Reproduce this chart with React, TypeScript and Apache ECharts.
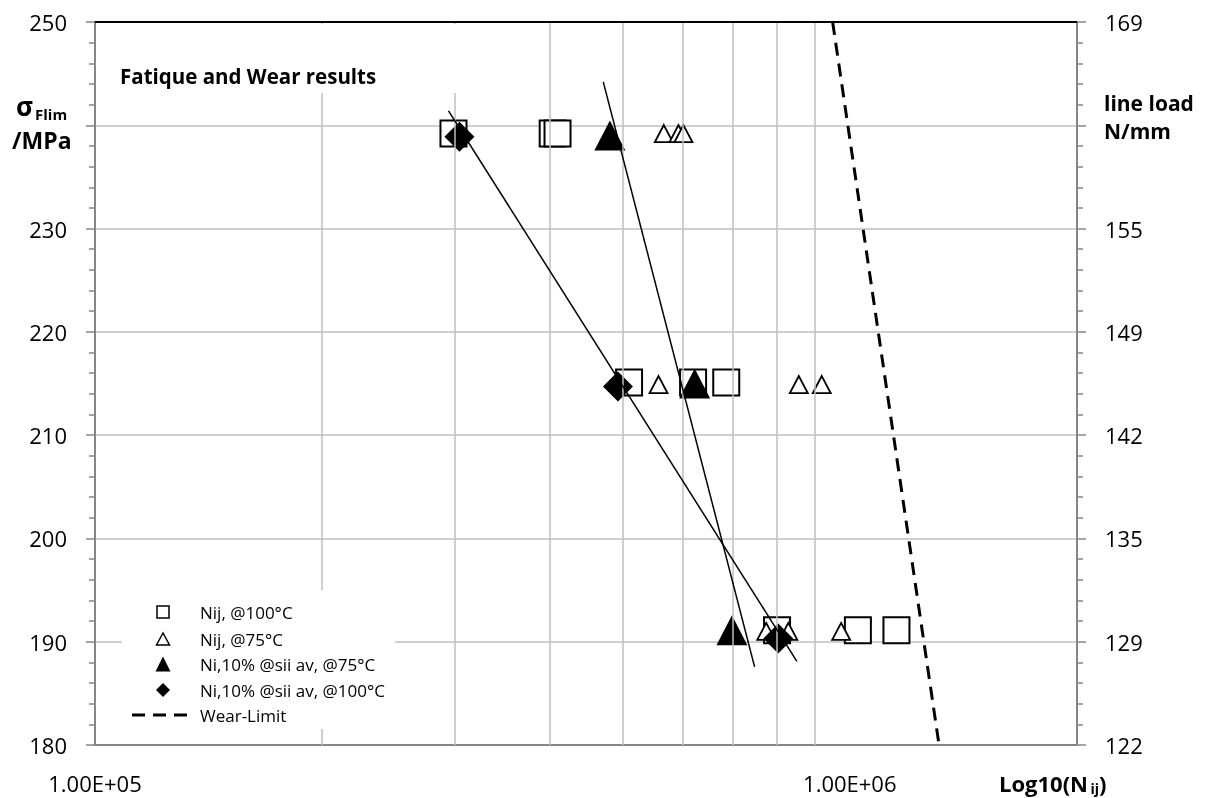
import React, { useEffect, useRef } from 'react';
import * as echarts from 'echarts';

// ---- data ----
const sigmaTicks = [180, 190, 200, 210, 220, 230, 240, 250];
const sigmaLabels = ['180', '190', '200', '210', '220', '230', '', '250'];
const lineLoadLabels = ['122', '129', '135', '142', '149', '155', '', '169'];
const xTickValues = [1e5, 1e6];
const xTickLabels = ['1.00E+05', '1.00E+06'];
const xGridValues = [2e5, 3e5, 4e5, 5e5, 6e5, 7e5, 8e5, 9e5];

const nij100 = [
  [2.985e5, 239.2], [4.04e5, 239.2], [4.1e5, 239.2],
  [5.1e5, 215.1], [6.2e5, 215.1], [6.86e5, 215.1],
  [8.01e5, 191.1], [1.025e6, 191.1], [1.153e6, 191.1],
];
const nij75 = [
  [5.67e5, 239.2], [5.93e5, 239.2], [6.02e5, 239.2],
  [5.58e5, 214.9], [8.56e5, 214.9], [9.18e5, 214.9],
  [7.75e5, 191.0], [8.29e5, 191.0], [9.74e5, 191.0],
];
const ni10at75 = [[4.81e5, 239.0], [6.23e5, 215.0], [6.98e5, 191.1]];
const ni10at100 = [[3.04e5, 238.9], [4.93e5, 214.7], [8.04e5, 190.3]];
const trend75 = [[4.714e5, 244.2], [7.48e5, 187.56]];
const trend100 = [[2.94e5, 241.4], [8.51e5, 188.1]];
const wearLimit = [[9.49e5, 250], [1.313e6, 180]];

const legendNames = ['Nij, @100°C', 'Nij, @75°C', 'Ni,10% @sii av, @75°C', 'Ni,10% @sii av, @100°C', 'Wear-Limit'];

const FONT = '"Open Sans", "Noto Sans", sans-serif';
const GRID_C = '#bfbfbf';
const AXIS_C = '#868686';

export default function App() {
  const ref = useRef<HTMLDivElement>(null);
  useEffect(() => {
    if (!ref.current) return;
    const chart = echarts.init(ref.current, undefined, { renderer: 'svg' });
    const txt = (x: number, y: number, text: string, size: number, bold = true, align = 'left') => ({
      type: 'text', x, y, z: 101,
      style: { text, font: `${bold ? 'bold ' : ''}${size}px ${FONT}`, fill: '#000', align, verticalAlign: 'middle' },
    });
    const lx = 163;
    const ly = [612, 639, 664, 690, 715];
    const fmt = (labels: string[]) => (v: number) => {
      const i = sigmaTicks.findIndex((t) => Math.abs(t - v) < 1e-6);
      return i >= 0 ? labels[i] : '';
    };
    const option: any = {
      animation: false,
      textStyle: { fontFamily: FONT },
      grid: { left: 95, right: 132, top: 22, bottom: 53, containLabel: false },
      xAxis: {
        type: 'log', logBase: 10, min: 1e5, max: 2e6,
        axisLine: { show: true, lineStyle: { color: AXIS_C, width: 2 } },
        axisTick: { show: false },
        splitLine: { show: false },
        minorTick: { show: false },
        axisLabel: {
          fontSize: 22, color: '#000', margin: 27, fontFamily: FONT,
          formatter: (v: number) => {
            const i = xTickValues.findIndex((t) => Math.abs(t - v) / t < 1e-6);
            return i >= 0 ? xTickLabels[i] : '';
          },
        },
      },
      yAxis: [
        {
          type: 'value', min: 180, max: 250, interval: 10, position: 'left',
          axisLine: { show: true, lineStyle: { color: AXIS_C, width: 2 } },
          axisTick: { show: true, length: 9, lineStyle: { color: AXIS_C, width: 1.5 } },
          minorTick: { show: true, splitNumber: 5, length: 6, lineStyle: { color: AXIS_C, width: 1.5 } },
          splitLine: { show: true, lineStyle: { color: GRID_C, width: 1.5 } },
          axisLabel: { fontSize: 22, color: '#000', margin: 28, fontFamily: FONT, formatter: fmt(sigmaLabels) },
        },
        {
          type: 'value', min: 180, max: 250, interval: 10, position: 'right',
          axisLine: { show: true, lineStyle: { color: AXIS_C, width: 2 } },
          axisTick: { show: true, length: 9, lineStyle: { color: AXIS_C, width: 1.5 } },
          minorTick: { show: true, splitNumber: 5, length: 6, lineStyle: { color: AXIS_C, width: 1.5 } },
          splitLine: { show: false },
          axisLabel: { fontSize: 22, color: '#000', margin: 28, fontFamily: FONT, formatter: fmt(lineLoadLabels) },
        },
      ],
      series: [
        {
          name: 'grid', type: 'line', data: [], z: 1, silent: true,
          markLine: {
            silent: true, symbol: 'none', label: { show: false }, animation: false,
            lineStyle: { color: GRID_C, width: 1.5, type: 'solid' },
            data: [
              ...xGridValues.map((v) => ({ xAxis: v })),
              { yAxis: 250, lineStyle: { color: '#000', width: 2, type: 'solid' } },
            ],
          },
        },
        {
          name: legendNames[0], type: 'scatter', data: nij100, symbol: 'rect', symbolSize: 26, z: 3,
          itemStyle: { color: '#fff', borderColor: '#000', borderWidth: 2, opacity: 1 },
        },
        {
          name: legendNames[1], type: 'scatter', data: nij75, symbol: 'triangle', symbolSize: [18, 17], z: 3,
          itemStyle: { color: '#fff', borderColor: '#000', borderWidth: 1.8, opacity: 1 },
        },
        {
          name: legendNames[2], type: 'scatter', data: ni10at75, symbol: 'triangle', symbolSize: [31, 30], z: 4,
          itemStyle: { color: '#000', opacity: 1 },
        },
        {
          name: legendNames[3], type: 'scatter', data: ni10at100, symbol: 'diamond', symbolSize: 30, z: 4,
          itemStyle: { color: '#000', opacity: 1 },
        },
        {
          name: 'trend75', type: 'line', data: trend75, symbol: 'none', z: 5,
          lineStyle: { color: '#000', width: 1.5 },
        },
        {
          name: 'trend100', type: 'line', data: trend100, symbol: 'none', z: 5,
          lineStyle: { color: '#000', width: 1.5 },
        },
        {
          name: legendNames[4], type: 'line', data: wearLimit, symbol: 'none', z: 5,
          lineStyle: { color: '#000', width: 3, type: [13, 8] },
        },
      ],
      graphic: [
        // title box
        { type: 'rect', z: 100, shape: { x: 98, y: 24, width: 400, height: 69 }, style: { fill: '#fff' } },
        txt(120, 76, 'Fatique and Wear results', 20.5),
        // legend box
        { type: 'rect', z: 100, shape: { x: 122, y: 590, width: 273, height: 139 }, style: { fill: '#fff' } },
        { type: 'rect', z: 101, shape: { x: lx - 6, y: ly[0] - 6, width: 12, height: 12 }, style: { fill: '#fff', stroke: '#000', lineWidth: 1.5 } },
        { type: 'polygon', z: 101, shape: { points: [[lx - 6.5, ly[1] + 6], [lx, ly[1] - 6], [lx + 6.5, ly[1] + 6]] }, style: { fill: '#fff', stroke: '#000', lineWidth: 1.5 } },
        { type: 'polygon', z: 101, shape: { points: [[lx - 7.5, ly[2] + 7.5], [lx, ly[2] - 7.5], [lx + 7.5, ly[2] + 7.5]] }, style: { fill: '#000' } },
        { type: 'polygon', z: 101, shape: { points: [[lx, ly[3] - 7], [lx + 7, ly[3]], [lx, ly[3] + 7], [lx - 7, ly[3]]] }, style: { fill: '#000' } },
        { type: 'line', z: 101, shape: { x1: 132, y1: ly[4], x2: 193, y2: ly[4] }, style: { stroke: '#000', lineWidth: 3, lineDash: [13, 8] } },
        ...legendNames.map((n, i) => txt(200, ly[i], n, 17, false)),
        // y-axis titles
        txt(16, 106, 'σ', 26),
        txt(35, 114, 'Flim', 15),
        txt(12, 140, '/MPa', 23),
        txt(1104, 103, 'line load', 21),
        txt(1104, 131, 'N/mm', 21),
        // x-axis title
        txt(1088, 783, 'Log10(N', 22, true, 'right'),
        txt(1099, 788, 'ij', 14, true, 'right'),
        txt(1099, 783, ')', 22, true, 'left'),
      ],
    };
    chart.setOption(option);
    return () => chart.dispose();
  }, []);
  return <div ref={ref} style={{ position: 'fixed', left: 0, top: 0, width: 1209, height: 798 }} />;
}
